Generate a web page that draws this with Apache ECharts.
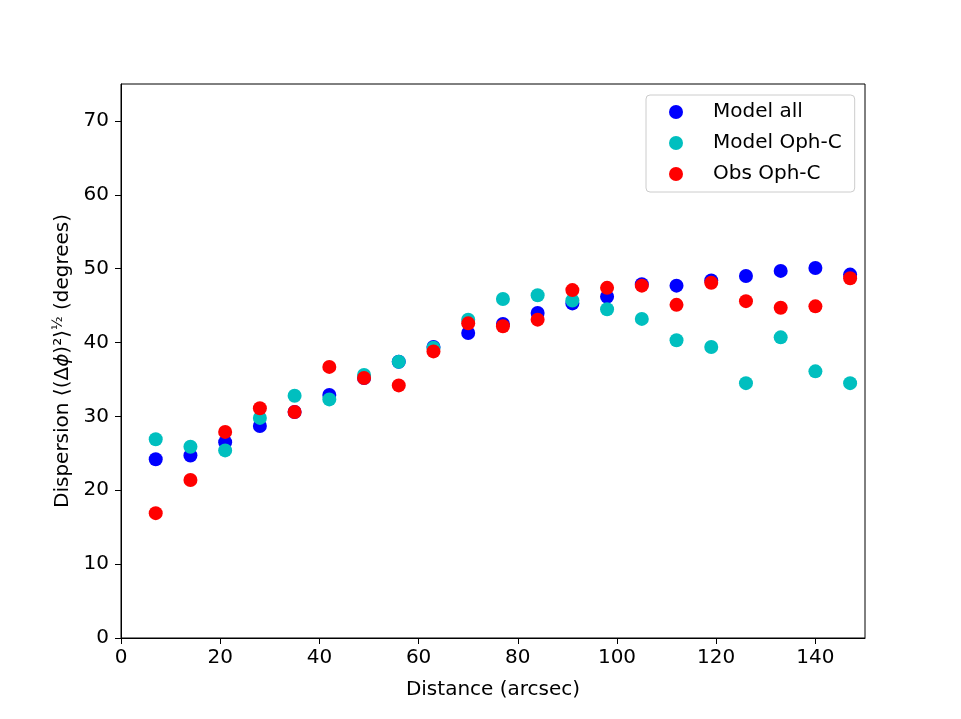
<!DOCTYPE html>
<html>
<head>
<meta charset="utf-8">
<script src="https://cdn.jsdelivr.net/npm/echarts@6/dist/echarts.min.js"></script>
<style>
  html, body { margin: 0; padding: 0; background: #fff; }
  #chart { width: 961px; height: 719px; }
</style>
</head>
<body>
<div id="chart"></div>
<script>
// distance bins (arcsec)
const distances = [7, 14, 21, 28, 35, 42, 49, 56, 63, 70, 77, 84, 91, 98, 105, 112, 119, 126, 133, 140, 147];
const modelAll = [24.2, 24.7, 26.5, 28.7, 30.6, 32.9, 35.2, 37.4, 39.4, 41.3, 42.5, 44.0, 45.3, 46.2, 47.9, 47.7, 48.4, 49.0, 49.7, 50.1, 49.2];
const modelOphC = [26.9, 25.9, 25.4, 29.8, 32.8, 32.3, 35.6, 37.4, 39.3, 43.1, 45.9, 46.4, 45.7, 44.5, 43.2, 40.3, 39.4, 34.5, 40.7, 36.1, 34.5];
const obsOphC = [16.9, 21.4, 27.9, 31.1, 30.6, 36.7, 35.2, 34.2, 38.8, 42.6, 42.2, 43.1, 47.1, 47.4, 47.7, 45.1, 48.1, 45.6, 44.7, 44.9, 48.7];

const xTicks = [0, 20, 40, 60, 80, 100, 120, 140];
const yTicks = [0, 10, 20, 30, 40, 50, 60, 70];

const font = 'DejaVu Sans';

function pairs(ys) {
    return distances.map((d, i) => [d, ys[i]]);
}

let myChart = echarts.init(document.getElementById('chart'));
let option = {
    animation: false,
    backgroundColor: '#fff',
    grid: {
        left: 121,
        right: 96,
        top: 84,
        bottom: 81,
        show: true,
        borderColor: '#000',
        borderWidth: 1,
        backgroundColor: 'transparent'
    },
    legend: {
        orient: 'vertical',
        left: 646,
        top: 95,
        padding: [5, 13, 6, 23],
        itemGap: 7,
        itemWidth: 14,
        itemHeight: 14,
        icon: 'circle',
        backgroundColor: '#fff',
        borderColor: '#cccccc',
        borderWidth: 1,
        borderRadius: 4,
        textStyle: {
            fontFamily: font,
            fontSize: 20,
            lineHeight: 24,
            color: '#000',
            padding: [0, 0, 0, 25]
        },
        data: ['Model all', 'Model Oph-C', 'Obs Oph-C']
    },
    xAxis: {
        type: 'value',
        min: 0,
        max: 150,
        interval: 20,
        name: 'Distance (arcsec)',
        nameLocation: 'middle',
        nameGap: 42,
        nameTextStyle: { fontFamily: font, fontSize: 20, color: '#000' },
        axisLine: { show: true, lineStyle: { color: '#000', width: 1 } },
        axisTick: { show: true, inside: false, length: 6, lineStyle: { color: '#000' }, customValues: xTicks },
        axisLabel: {
            fontFamily: font, fontSize: 20, color: '#000', margin: 10,
            customValues: xTicks
        },
        splitLine: { show: false }
    },
    yAxis: {
        type: 'value',
        min: 0,
        max: 75,
        interval: 10,
        name: 'Dispersion ⟨(Δ{it|ϕ})²⟩{sup|½} (degrees)',
        nameLocation: 'middle',
        nameGap: 46,
        nameTextStyle: {
            fontFamily: font, fontSize: 20, color: '#000',
            rich: {
                it: { fontFamily: font, fontSize: 20, fontStyle: 'italic', color: '#000' },
                sup: { fontFamily: font, fontSize: 14, color: '#000', verticalAlign: 'top', padding: [0, 0, 8, 0] }
            }
        },
        axisLine: { show: true, lineStyle: { color: '#000', width: 1 } },
        axisTick: { show: true, inside: false, length: 6, lineStyle: { color: '#000' }, customValues: yTicks },
        axisLabel: {
            fontFamily: font, fontSize: 20, color: '#000', margin: 12,
            customValues: yTicks
        },
        splitLine: { show: false }
    },
    series: [
        {
            name: 'Model all',
            type: 'scatter',
            symbolSize: 14,
            itemStyle: { color: '#0000ff', opacity: 1 },
            data: pairs(modelAll)
        },
        {
            name: 'Model Oph-C',
            type: 'scatter',
            symbolSize: 14,
            itemStyle: { color: '#00bfbf', opacity: 1 },
            data: pairs(modelOphC)
        },
        {
            name: 'Obs Oph-C',
            type: 'scatter',
            symbolSize: 14,
            itemStyle: { color: '#ff0000', opacity: 1 },
            data: pairs(obsOphC)
        }
    ]
};
myChart.setOption(option);
</script>
</body>
</html>
